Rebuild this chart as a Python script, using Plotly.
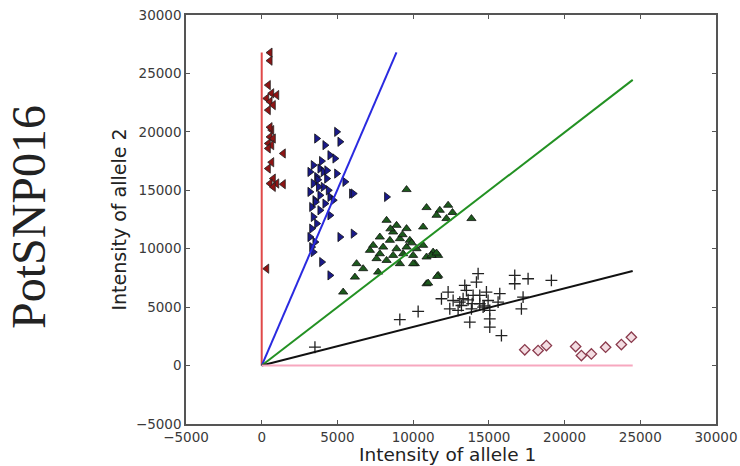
import plotly.graph_objects as go

# Genotype clusters for SNP marker PotSNP016 (allele 1 vs allele 2 intensity)
red_x = [550, 550, 435, 660, 990, 330, 550, 765, 435, 660, 550, 765, 435, 660, 435, 1425,
         435, 765, 550, 990, 1425, 765, 330, 550, 660]
red_y = [26780, 26090, 24000, 23300, 23150, 22860, 22580, 22290, 21860, 20150, 19570, 19430,
         19010, 18860, 18580, 18150, 16860, 16000, 15580, 15580, 15520, 15290, 8290, 20400, 17400]

blue_x = [3630, 4175, 4950, 5165, 4505, 4835, 3405, 3845, 4065, 3185, 3630, 4290, 4950, 5495,
          5935, 3405, 4065, 3185, 3845, 4505, 3515, 4175, 4725, 3300, 3845, 4505, 3405, 3630,
          3300, 5165, 6045, 3185, 3515, 3300, 3405, 3960, 4505, 8245, 6045, 3700, 4400, 3950,
          3550, 4300, 3750]
blue_y = [19430, 18860, 20000, 19150, 18000, 17720, 17150, 16860, 16570, 16570, 16140, 16000,
          16430, 15720, 14720, 15580, 15290, 14860, 14570, 14430, 14150, 13860, 14150, 13570,
          13290, 12860, 12720, 12150, 11720, 11000, 11290, 11000, 10570, 10140, 9710, 8860,
          7720, 14430, 14720, 15900, 15000, 17500, 14000, 16700, 15300]

green_x = [9565, 10885, 11760, 12310, 11545, 12200, 13850, 10660, 8245, 8905, 9565, 8680,
           7800, 8465, 9125, 9780, 7360, 8020, 8905, 9565, 10225, 10660, 7145, 7800, 8680,
           9340, 10000, 11320, 11650, 7585, 8245, 9125, 10885, 6265, 6700, 7690, 10110, 10885,
           11650, 6155, 5380, 10000, 10990, 11585, 11215, 11545, 9300, 8500, 9900, 12600]
green_y = [15060, 13520, 13290, 13720, 12860, 12580, 12580, 11860, 12430, 12000, 11720, 11430,
           11000, 10720, 10860, 10720, 10290, 10140, 10000, 10140, 10000, 10290, 9860, 9570,
           9430, 9570, 9430, 9710, 9430, 9150, 9000, 8720, 9290, 8720, 8290, 8000, 8720, 7000,
           7720, 7570, 6290, 8720, 7060, 7630, 9430, 9630, 11200, 11700, 10500, 13100]

black_x = [14290, 14180, 16710, 16710, 17590, 19130, 13410, 13520, 12310, 11870, 12640, 13080,
           13630, 13960, 14840, 15720, 14950, 15610, 14400, 12420, 12970, 13850, 14620, 15060,
           17260, 17150, 10330, 9120, 15060, 13740, 15060, 15830, 13300, 14400, 13190, 3515,
           14700, 13900]
black_y = [7860, 7140, 7720, 7000, 7430, 7290, 6860, 6430, 6290, 5720, 5570, 5430, 5630, 6000,
           6290, 6150, 5570, 5430, 5290, 4860, 4720, 4860, 5000, 4720, 5860, 4860, 4630, 3940,
           4000, 3710, 3290, 2570, 5720, 6000, 5140, 1570, 5100, 5300]

pink_x = [17370, 18250, 18800, 20730, 21110, 21770, 22710, 23750, 24410]
pink_y = [1350, 1290, 1710, 1630, 860, 1000, 1570, 1800, 2430]

# Cluster boundary lines from the origin
red_line_x, red_line_y = [0, 0], [0, 26800]
blue_line_x, blue_line_y = [0, 8900], [0, 26800]
green_line_x, green_line_y = [0, 24500], [0, 24450]
black_line_x, black_line_y = [0, 24500], [0, 8100]
pink_line_x, pink_line_y = [0, 24500], [0, 0]

x_ticks = [-5000, 0, 5000, 10000, 15000, 20000, 25000, 30000]
y_ticks = [-5000, 0, 5000, 10000, 15000, 20000, 25000, 30000]

fig = go.Figure()

msize = 8
fig.add_trace(go.Scatter(x=red_x, y=red_y, mode="markers",
                         marker=dict(symbol="triangle-left", size=msize, color="#8e1414",
                                     line=dict(color="#222", width=0.8))))
fig.add_trace(go.Scatter(x=blue_x, y=blue_y, mode="markers",
                         marker=dict(symbol="triangle-right", size=msize, color="#1a1a8a",
                                     line=dict(color="#111", width=0.8))))
fig.add_trace(go.Scatter(x=green_x, y=green_y, mode="markers",
                         marker=dict(symbol="triangle-up", size=msize, color="#1d5a1d",
                                     line=dict(color="#111", width=0.8))))
fig.add_trace(go.Scatter(x=black_x, y=black_y, mode="markers",
                         marker=dict(symbol="cross-thin", size=8.5, color="#222",
                                     line=dict(color="#222", width=1.3))))
fig.add_trace(go.Scatter(x=pink_x, y=pink_y, mode="markers",
                         marker=dict(symbol="diamond", size=8, color="#f3dde2",
                                     line=dict(color="#8a3a4c", width=1.3))))

line_specs = [
    (red_line_x, red_line_y, "#e04848"),
    (blue_line_x, blue_line_y, "#2a2ae0"),
    (green_line_x, green_line_y, "#239123"),
    (black_line_x, black_line_y, "#111111"),
    (pink_line_x, pink_line_y, "#f7a8bf"),
]
for lx, ly, col in line_specs:
    fig.add_trace(go.Scatter(x=lx, y=ly, mode="lines", line=dict(color=col, width=2)))

axis_common = dict(
    showgrid=False, zeroline=False, showline=True, linecolor="#555", linewidth=1.5,
    mirror="allticks", ticks="inside", ticklen=4, tickcolor="#555",
    tickfont=dict(family="DejaVu Sans", size=13.5, color="#3a3a3a"),
)

fig.update_xaxes(range=[-5000, 30000], tickvals=x_ticks,
                 ticktext=[f"{v:d}".replace("-", "\u2212") for v in x_ticks], **axis_common)
fig.update_yaxes(range=[-5000, 30000], tickvals=y_ticks,
                 ticktext=[f"{v:d}".replace("-", "\u2212") for v in y_ticks],
                 title=dict(text="Intensity of allele 2", standoff=4,
                            font=dict(family="DejaVu Sans", size=19, color="#222")),
                 **axis_common)

# x-axis title placed just under the tick labels
fig.add_annotation(text="Intensity of allele 1", xref="paper", yref="paper", x=0.494, y=-0.0735,
                   xanchor="center", yanchor="middle", showarrow=False,
                   font=dict(family="DejaVu Sans", size=18.5, color="#222"))

fig.add_annotation(text="PotSNP016", xref="paper", yref="paper", x=-0.297, y=0.505,
                   xanchor="center", yanchor="middle", textangle=-90, showarrow=False,
                   font=dict(family="Liberation Serif", size=48, color="#222"))

fig.update_layout(
    width=740, height=466, showlegend=False,
    margin=dict(l=186, r=24, t=15, b=42, autoexpand=False),
    paper_bgcolor="white", plot_bgcolor="white",
)

fig.write_html("out.html")
